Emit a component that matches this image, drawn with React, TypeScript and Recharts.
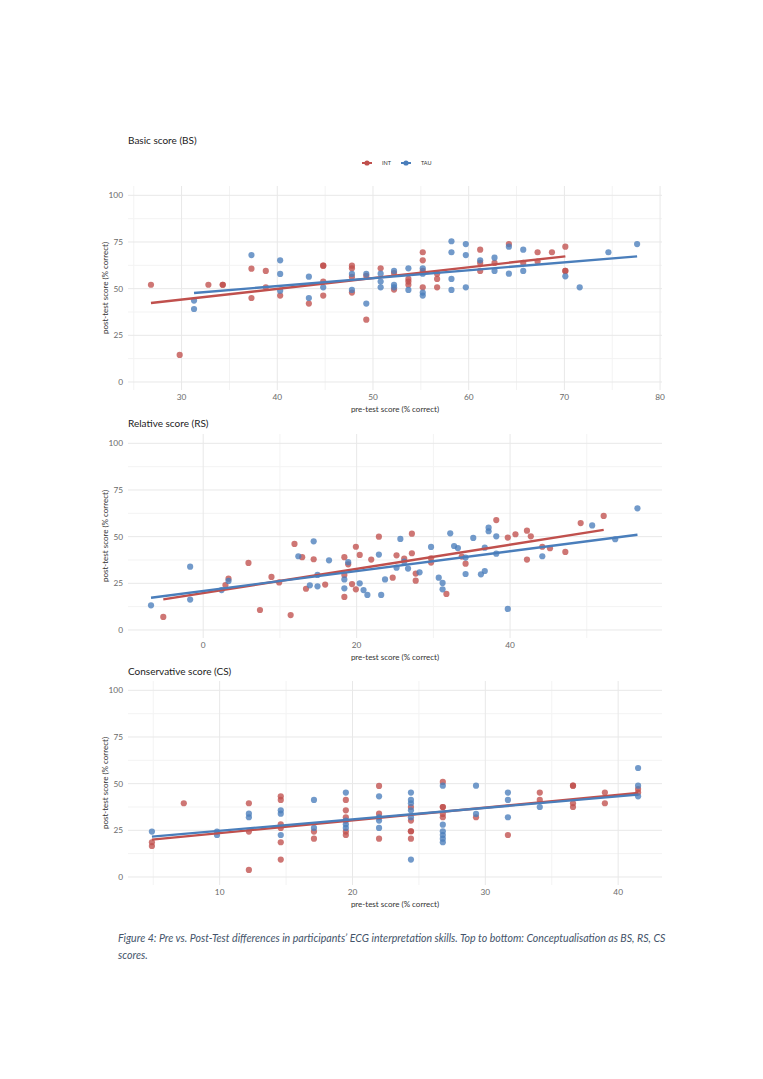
import {
    ScatterChart,
    Scatter,
    XAxis,
    YAxis,
    ReferenceLine
} from "recharts";

const RED = "#c0504d";
const BLUE = "#4a7ebb";
const FONT = "Lato, 'Open Sans', sans-serif";

// Basic score (BS)
const bsIntPre = [26.8, 29.8, 32.8, 34.3, 34.3, 37.3, 37.3, 38.8, 38.8, 40.3, 43.3, 44.8, 44.8, 44.8, 44.8, 47.8, 47.8, 47.8, 47.8, 49.3, 49.3, 50.8, 52.2, 52.2, 53.7, 53.7, 53.7, 55.2, 55.2, 55.2, 55.2, 56.7, 56.7, 56.7, 61.2, 61.2, 61.2, 62.7, 64.2, 65.7, 67.2, 67.2, 68.7, 70.1, 70.1, 70.1];
const bsIntPost = [52.1, 14.5, 52.1, 52.1, 52.1, 60.7, 45.0, 59.5, 50.7, 46.3, 42.0, 62.3, 62.3, 53.8, 46.3, 62.3, 60.9, 56.3, 47.9, 56.8, 33.4, 60.9, 58.4, 49.5, 55.2, 53.8, 52.1, 69.5, 65.2, 59.5, 50.7, 58.0, 55.2, 50.7, 70.9, 63.8, 59.5, 63.8, 73.9, 63.8, 69.5, 64.5, 69.5, 72.5, 59.5, 59.5];
const bsTauPre = [31.3, 31.3, 37.3, 40.3, 40.3, 40.3, 43.3, 43.3, 44.8, 47.8, 47.8, 49.3, 49.3, 50.8, 50.8, 50.8, 52.2, 52.2, 52.2, 53.7, 53.7, 55.2, 55.2, 55.2, 55.2, 58.2, 58.2, 58.2, 58.2, 59.7, 59.7, 59.7, 61.2, 62.7, 62.7, 64.2, 64.2, 65.7, 65.7, 70.1, 71.6, 74.6, 77.6];
const bsTauPost = [43.6, 39.1, 68.0, 65.2, 57.9, 48.9, 56.4, 45.0, 50.7, 57.9, 49.3, 57.9, 42.0, 58.0, 53.8, 50.7, 59.5, 52.1, 50.7, 60.9, 49.3, 60.9, 58.0, 47.9, 46.3, 75.4, 69.5, 55.2, 49.3, 73.9, 68.0, 50.7, 65.2, 66.6, 59.5, 72.5, 58.0, 70.9, 59.5, 56.6, 50.7, 69.5, 73.9];
const bsIntFitPre = [26.8, 70.1];
const bsIntFitPost = [42.3, 67.3];
const bsTauFitPre = [31.3, 77.6];
const bsTauFitPost = [47.7, 67.3];

// Relative score (RS)
const rsIntPre = [-5.2, 2.9, 3.3, 5.9, 7.4, 8.9, 9.9, 11.4, 11.9, 12.9, 13.4, 14.4, 15.9, 18.4, 18.4, 18.4, 18.9, 19.4, 19.9, 19.9, 20.4, 21.9, 22.9, 24.7, 25.2, 26.2, 27.2, 27.2, 27.7, 27.7, 29.7, 29.7, 31.7, 33.7, 34.2, 38.2, 39.7, 40.7, 42.2, 42.7, 42.2, 44.2, 45.2, 47.2, 49.2, 52.2];
const rsIntPost = [7.0, 24.1, 27.5, 35.9, 10.7, 28.4, 25.5, 8.0, 46.1, 39.0, 22.1, 37.9, 24.3, 39.0, 29.5, 17.7, 35.2, 24.6, 44.6, 21.8, 40.2, 37.7, 50.0, 28.0, 40.0, 38.2, 51.6, 41.1, 30.2, 26.4, 38.4, 36.1, 19.3, 39.3, 35.5, 58.9, 49.5, 51.3, 53.2, 50.2, 37.7, 44.6, 43.8, 41.8, 57.3, 61.1];
const rsTauPre = [-6.8, -1.7, -1.7, 2.4, 3.3, 12.4, 13.9, 14.4, 14.9, 14.9, 16.4, 18.4, 18.4, 18.9, 20.4, 20.9, 21.4, 22.9, 23.2, 23.7, 25.2, 25.7, 26.2, 26.7, 28.2, 29.7, 30.7, 31.2, 31.2, 32.2, 32.7, 33.2, 34.2, 34.2, 35.2, 36.2, 36.7, 36.7, 37.2, 37.2, 38.2, 38.2, 39.7, 44.2, 50.7, 53.7, 56.6];
const rsTauPost = [13.2, 33.9, 16.3, 21.4, 26.3, 39.5, 23.9, 47.5, 29.5, 23.4, 37.3, 27.1, 22.3, 36.3, 25.0, 21.4, 18.8, 40.4, 18.8, 27.1, 33.4, 48.8, 36.6, 32.9, 30.9, 44.5, 28.0, 25.2, 21.8, 51.8, 45.0, 43.9, 38.8, 30.0, 49.3, 29.8, 31.6, 44.1, 54.8, 52.9, 50.2, 40.9, 11.3, 39.5, 56.0, 48.6, 65.2];
const rsIntFitPre = [-5.2, 52.2];
const rsIntFitPost = [16.4, 53.6];
const rsTauFitPre = [-6.8, 56.6];
const rsTauFitPost = [17.3, 51.0];

// Conservative score (CS)
const csIntPre = [4.9, 4.9, 7.3, 12.2, 12.2, 12.2, 14.6, 14.6, 14.6, 14.6, 14.6, 14.6, 17.1, 17.1, 19.5, 19.5, 19.5, 19.5, 19.5, 22.0, 22.0, 22.0, 24.4, 24.4, 24.4, 24.4, 24.4, 26.8, 26.8, 26.8, 26.8, 26.8, 29.3, 31.7, 34.1, 34.1, 36.6, 36.6, 36.6, 36.6, 39.0, 39.0, 41.5, 41.5];
const csIntPost = [18.6, 16.6, 39.5, 39.5, 24.3, 3.8, 43.2, 41.3, 28.2, 26.3, 18.6, 9.3, 24.3, 20.5, 41.3, 35.7, 32.0, 24.3, 22.5, 48.8, 33.9, 20.5, 37.5, 30.2, 24.5, 24.5, 20.5, 50.9, 37.5, 37.5, 33.8, 32.0, 32.0, 22.5, 45.2, 41.3, 48.9, 48.9, 39.5, 37.5, 45.2, 39.5, 47.1, 45.2];
const csTauPre = [4.9, 9.8, 9.8, 12.2, 12.2, 14.6, 14.6, 14.6, 17.1, 17.1, 19.5, 19.5, 19.5, 19.5, 22.0, 22.0, 22.0, 22.0, 24.4, 24.4, 24.4, 24.4, 24.4, 24.4, 26.8, 26.8, 26.8, 26.8, 26.8, 26.8, 29.3, 29.3, 31.7, 31.7, 31.7, 34.1, 41.5, 41.5, 41.5];
const csTauPost = [24.3, 24.3, 22.5, 33.9, 32.0, 35.7, 33.9, 22.5, 41.3, 26.3, 45.2, 30.2, 28.2, 26.3, 43.2, 32.0, 30.2, 26.3, 45.2, 41.3, 39.5, 35.7, 32.0, 9.3, 48.9, 28.0, 24.5, 22.5, 20.5, 18.6, 48.9, 33.8, 45.2, 41.3, 32.0, 37.5, 58.4, 48.9, 43.2];
const csIntFitPre = [4.9, 41.5];
const csIntFitPost = [20.0, 45.0];
const csTauFitPre = [4.9, 41.5];
const csTauFitPost = [21.6, 44.1];

const yTicks = [0, 25, 50, 75, 100];
const yMinor = [12.5, 37.5, 62.5, 87.5];

const zip = (xs: number[], ys: number[]) => xs.map((x, i) => ({ x, y: ys[i] }));

const dot = (color: string) => (props: any) => (
    <circle cx={props.cx} cy={props.cy} r={3.1} fill={color} fillOpacity={0.78} />
);

const noDot = () => <g />;

interface PanelProps {
    top: number;
    xDomain: [number, number];
    xTicks: number[];
    xMinor: number[];
    int: { x: number; y: number }[];
    tau: { x: number; y: number }[];
    intFit: { x: number; y: number }[];
    tauFit: { x: number; y: number }[];
}

function Panel({ top, xDomain, xTicks, xMinor, int, tau, intFit, tauFit }: PanelProps) {

    const tickStyle = { fontSize: 8.3, fill: "#6a6a6a", fontFamily: FONT };
    const labelStyle = { fontSize: 8, fill: "#333", fontFamily: FONT };

    return (
        <div style={{ position: "absolute", left: 0, top }}>
            <ScatterChart
                width={763}
                height={234}
                margin={{ top: 6, right: 101, bottom: 0, left: 84 }}
            >
                {/* grid: minor lines first, major on top */}
                {xMinor.map(v => (
                    <ReferenceLine key={"xm" + v} x={v} stroke="#f3f3f3" strokeWidth={1} />
                ))}
                {yMinor.map(v => (
                    <ReferenceLine key={"ym" + v} y={v} stroke="#f3f3f3" strokeWidth={1} />
                ))}
                {xTicks.map(v => (
                    <ReferenceLine key={"x" + v} x={v} stroke="#e8e8e8" strokeWidth={1} />
                ))}
                {yTicks.map(v => (
                    <ReferenceLine key={"y" + v} y={v} stroke="#e8e8e8" strokeWidth={1} />
                ))}
                <XAxis
                    type="number"
                    dataKey="x"
                    domain={xDomain}
                    ticks={xTicks}
                    allowDataOverflow
                    axisLine={false}
                    tickLine={false}
                    tickSize={0}
                    tickMargin={4}
                    height={24}
                    tick={tickStyle}
                    label={{
                        value: "pre-test score (% correct)",
                        position: "insideBottom",
                        offset: 2,
                        style: labelStyle
                    }}
                />
                <YAxis
                    type="number"
                    dataKey="y"
                    domain={[-4.3, 105]}
                    ticks={yTicks}
                    allowDataOverflow
                    axisLine={false}
                    tickLine={false}
                    tickSize={0}
                    tickMargin={5}
                    width={44}
                    tick={tickStyle}
                    label={{
                        value: "post-test score (% correct)",
                        angle: -90,
                        position: "insideLeft",
                        offset: 21,
                        style: { ...labelStyle, textAnchor: "middle" }
                    }}
                />
                <Scatter data={int} fill={RED} shape={dot(RED)} isAnimationActive={false} />
                <Scatter data={tau} fill={BLUE} shape={dot(BLUE)} isAnimationActive={false} />
                <Scatter
                    data={intFit}
                    line={{ stroke: RED, strokeWidth: 2.4 }}
                    shape={noDot}
                    isAnimationActive={false}
                />
                <Scatter
                    data={tauFit}
                    line={{ stroke: BLUE, strokeWidth: 2.4 }}
                    shape={noDot}
                    isAnimationActive={false}
                />
            </ScatterChart>
        </div>
    );
}

function Title({ text, top }: { text: string; top: number }) {
    return (
        <div
            style={{
                position: "absolute",
                left: 128,
                top,
                fontFamily: FONT,
                fontSize: 10,
                color: "#222",
                whiteSpace: "nowrap"
            }}
        >
            {text}
        </div>
    );
}

function LegendItem({ color, label }: { color: string; label: string }) {
    return (
        <span style={{ display: "inline-flex", alignItems: "center", marginRight: 10 }}>
            <svg width={10} height={8}>
                <line x1={0} y1={4} x2={10} y2={4} stroke={color} strokeWidth={2} />
                <circle cx={5} cy={4} r={2.6} fill={color} />
            </svg>
            <span style={{ marginLeft: 10, fontSize: 5.5, color: "#333" }}>{label}</span>
        </span>
    );
}

export default function App() {

    return (
        <div
            style={{
                position: "absolute",
                left: 0,
                top: 0,
                width: 763,
                height: 1079,
                background: "#fff",
                fontFamily: FONT
            }}
        >
            <Title text="Basic score (BS)" top={134} />
            <div
                style={{
                    position: "absolute",
                    left: 362,
                    top: 159,
                    display: "flex",
                    fontFamily: FONT
                }}
            >
                <LegendItem color={RED} label="INT" />
                <LegendItem color={BLUE} label="TAU" />
            </div>
            <Panel
                top={180}
                xDomain={[24.4, 80.2]}
                xTicks={[30, 40, 50, 60, 70, 80]}
                xMinor={[25, 35, 45, 55, 65, 75]}
                int={zip(bsIntPre, bsIntPost)}
                tau={zip(bsTauPre, bsTauPost)}
                intFit={zip(bsIntFitPre, bsIntFitPost)}
                tauFit={zip(bsTauFitPre, bsTauFitPost)}
            />

            <Title text="Relative score (RS)" top={417} />
            <Panel
                top={428}
                xDomain={[-9.8, 59.8]}
                xTicks={[0, 20, 40]}
                xMinor={[10, 30, 50]}
                int={zip(rsIntPre, rsIntPost)}
                tau={zip(rsTauPre, rsTauPost)}
                intFit={zip(rsIntFitPre, rsIntFitPost)}
                tauFit={zip(rsTauFitPre, rsTauFitPost)}
            />

            <Title text="Conservative score (CS)" top={665} />
            <Panel
                top={675}
                xDomain={[3.1, 43.3]}
                xTicks={[10, 20, 30, 40]}
                xMinor={[5, 15, 25, 35]}
                int={zip(csIntPre, csIntPost)}
                tau={zip(csTauPre, csTauPost)}
                intFit={zip(csIntFitPre, csIntFitPost)}
                tauFit={zip(csTauFitPre, csTauFitPost)}
            />

            <div
                style={{
                    position: "absolute",
                    left: 118,
                    top: 930,
                    fontFamily: FONT,
                    fontStyle: "italic",
                    fontSize: 10.6,
                    lineHeight: "17px",
                    color: "#44546a",
                    whiteSpace: "nowrap"
                }}
            >
                Figure 4: Pre vs. Post-Test differences in participants’ ECG interpretation skills. Top to bottom: Conceptualisation as BS, RS, CS
                <br />
                scores.
            </div>
        </div>
    );
}
